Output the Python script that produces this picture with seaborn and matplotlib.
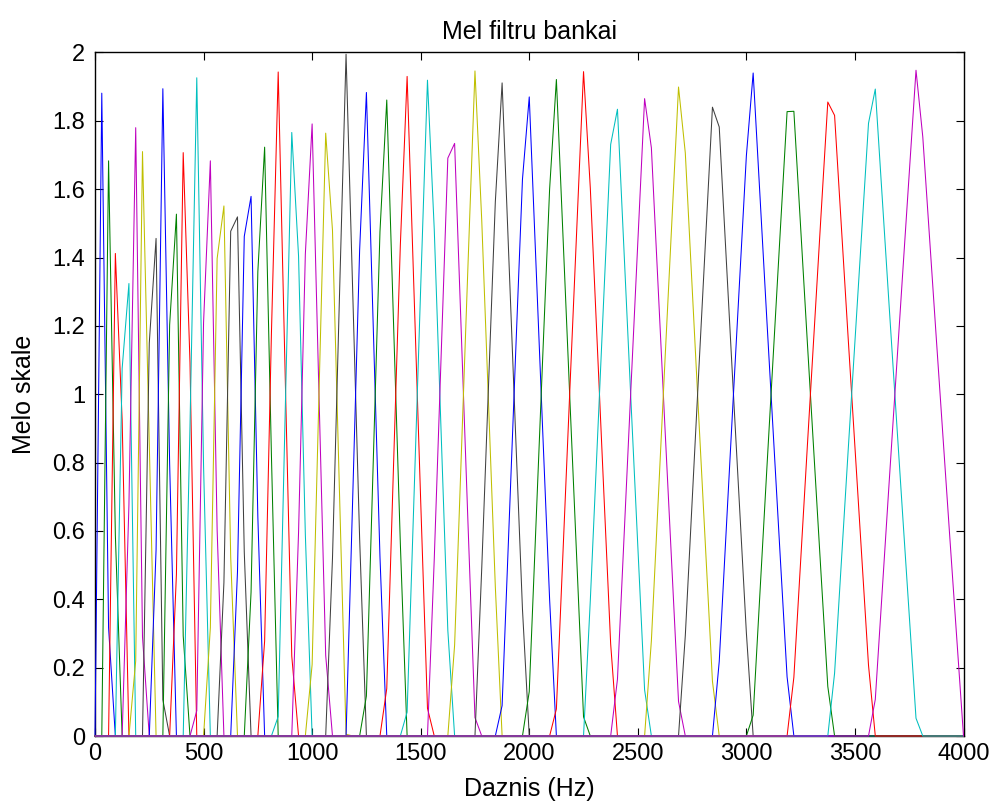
import numpy as np
import pandas as pd
import matplotlib
matplotlib.use("Agg")
import matplotlib.pyplot as plt
import seaborn as sns

# 256-point FFT at 8 kHz: 129 bins from 0 Hz to 4000 Hz
n_bins = 129
nyquist_hz = 4000

# first non-zero FFT bin of each of the 40 mel filters
filter_start_bin = [1, 2, 3, 4, 5, 6, 8, 9, 11, 12, 14, 15, 17, 19, 21, 23,
                    25, 27, 30, 32, 35, 38, 40, 43, 46, 50, 53, 57, 60, 64,
                    68, 73, 77, 82, 87, 92, 97, 103, 109, 115]

# filter gains over their non-zero bins (zero everywhere else)
filter_gains = [
    [1.881, 0.317],
    [1.683, 0.588],
    [1.412, 0.925],
    [1.075, 1.324],
    [0.676, 1.780, 0.290],
    [0.220, 1.710, 0.850],
    [1.150, 1.456, 0.106],
    [0.544, 1.894, 0.797],
    [1.203, 1.527, 0.293],
    [0.473, 1.707, 1.093],
    [0.907, 1.926, 0.790],
    [0.074, 1.210, 1.683, 0.603],
    [0.317, 1.397, 1.551, 0.523],
    [0.449, 1.477, 1.519, 0.538],
    [0.481, 1.462, 1.579, 0.641],
    [0.421, 1.359, 1.723, 0.823],
    [0.278, 1.177, 1.943, 1.080, 0.234],
    [0.057, 0.920, 1.766, 1.404, 0.590],
    [0.596, 1.410, 1.791, 1.007, 0.236],
    [0.209, 0.993, 1.764, 1.480, 0.736, 0.005],
    [0.520, 1.264, 1.995, 1.286, 0.579],
    [0.714, 1.421, 1.883, 1.198, 0.524],
    [0.117, 0.802, 1.476, 1.861, 1.207, 0.564],
    [0.139, 0.793, 1.436, 1.930, 1.305, 0.688, 0.081],
    [0.070, 0.695, 1.312, 1.919, 1.482, 0.891, 0.309],
    [0.518, 1.109, 1.691, 1.734, 1.166, 0.606, 0.054],
    [0.266, 0.834, 1.394, 1.946, 1.508, 0.969, 0.437],
    [0.492, 1.031, 1.563, 1.911, 1.391, 0.878, 0.371],
    [0.089, 0.609, 1.122, 1.629, 1.870, 1.374, 0.884, 0.400],
    [0.130, 0.626, 1.116, 1.600, 1.921, 1.447, 0.979, 0.515, 0.056],
    [0.079, 0.553, 1.021, 1.485, 1.944, 1.603, 1.154, 0.709, 0.269],
    [0.397, 0.846, 1.291, 1.731, 1.834, 1.403, 0.976, 0.553, 0.135],
    [0.166, 0.597, 1.024, 1.447, 1.865, 1.721, 1.310, 0.903, 0.501, 0.101],
    [0.279, 0.690, 1.097, 1.499, 1.899, 1.706, 1.314, 0.926, 0.541, 0.160],
    [0.294, 0.686, 1.074, 1.459, 1.840, 1.782, 1.407, 1.035, 0.667, 0.302],
    [0.218, 0.593, 0.965, 1.333, 1.698, 1.940, 1.580, 1.224, 0.871, 0.521,
     0.173],
    [0.061, 0.420, 0.776, 1.129, 1.479, 1.827, 1.828, 1.486, 1.147, 0.810,
     0.476, 0.145],
    [0.172, 0.514, 0.853, 1.190, 1.524, 1.855, 1.816, 1.489, 1.165, 0.844,
     0.524, 0.207],
    [0.184, 0.511, 0.835, 1.156, 1.476, 1.793, 1.893, 1.581, 1.271, 0.963,
     0.657, 0.354, 0.052],
    [0.107, 0.419, 0.729, 1.037, 1.343, 1.646, 1.948, 1.753, 1.456, 1.161,
     0.868, 0.576, 0.287],
]

# classic line colour cycle: b, g, r, c, m, y, k
color_cycle = [(0.0, 0.0, 1.0), (0.0, 0.5, 0.0), (1.0, 0.0, 0.0),
               (0.0, 0.75, 0.75), (0.75, 0.0, 0.75), (0.75, 0.75, 0.0),
               (0.25, 0.25, 0.25)]

x_ticks = [0, 500, 1000, 1500, 2000, 2500, 3000, 3500, 4000]
y_ticks = [0, 0.2, 0.4, 0.6, 0.8, 1.0, 1.2, 1.4, 1.6, 1.8, 2.0]
y_tick_labels = ["0", "0.2", "0.4", "0.6", "0.8", "1", "1.2", "1.4", "1.6",
                 "1.8", "2"]

title_text = "Mel filtru bankai"
x_label = "Daznis (Hz)"
y_label = "Melo skale"

# ---- long-form table: every filter over the full frequency grid ----
freq_hz = np.linspace(0, nyquist_hz, n_bins)
names = [f"F{i + 1:02d}" for i in range(len(filter_gains))]
frames = []
for name, start, gains in zip(names, filter_start_bin, filter_gains):
    row = np.zeros(n_bins)
    row[start:start + len(gains)] = gains
    frames.append(pd.DataFrame({"freq": freq_hz, "gain": row, "filter": name}))
df = pd.concat(frames, ignore_index=True)
palette = {name: color_cycle[i % len(color_cycle)] for i, name in enumerate(names)}

# ---- figure ----
sns.set_theme(style="white")
plt.rcParams["font.family"] = ["Liberation Sans", "DejaVu Sans"]

W, H = 994, 805
fig = plt.figure(figsize=(W / 100, H / 100), dpi=100)
ax = fig.add_axes([95 / W, 69 / H, 868.5 / W, 683.5 / H])

sns.lineplot(data=df, x="freq", y="gain", hue="filter", hue_order=names,
             palette=palette, estimator=None, sort=False, legend=False,
             linewidth=0.75, ax=ax)
for ln in ax.lines:
    ln.set_clip_on(False)
    ln.set_zorder(3)

ax.set_xlim(0, nyquist_hz)
ax.set_ylim(0, 2)
ax.set_xticks(x_ticks)
ax.set_xticklabels([str(t) for t in x_ticks])
ax.set_yticks(y_ticks)
ax.set_yticklabels(y_tick_labels)

for sp in ax.spines.values():
    sp.set_visible(True)
    sp.set_color("black")
    sp.set_linewidth(1.0)

ax.tick_params(direction="in", length=5.5, width=0.8, color="black",
               top=True, right=True, bottom=True, left=True,
               labelsize=17, labelcolor="black")
ax.tick_params(axis="x", pad=5)
ax.tick_params(axis="y", pad=7)

ax.set_title(title_text, fontsize=18, color="black", pad=10)
ax.set_xlabel(x_label, fontsize=18, color="black", labelpad=9)
ax.set_ylabel(y_label, fontsize=18, color="black", labelpad=12)

fig.savefig("out.png", dpi=100, facecolor="white")
